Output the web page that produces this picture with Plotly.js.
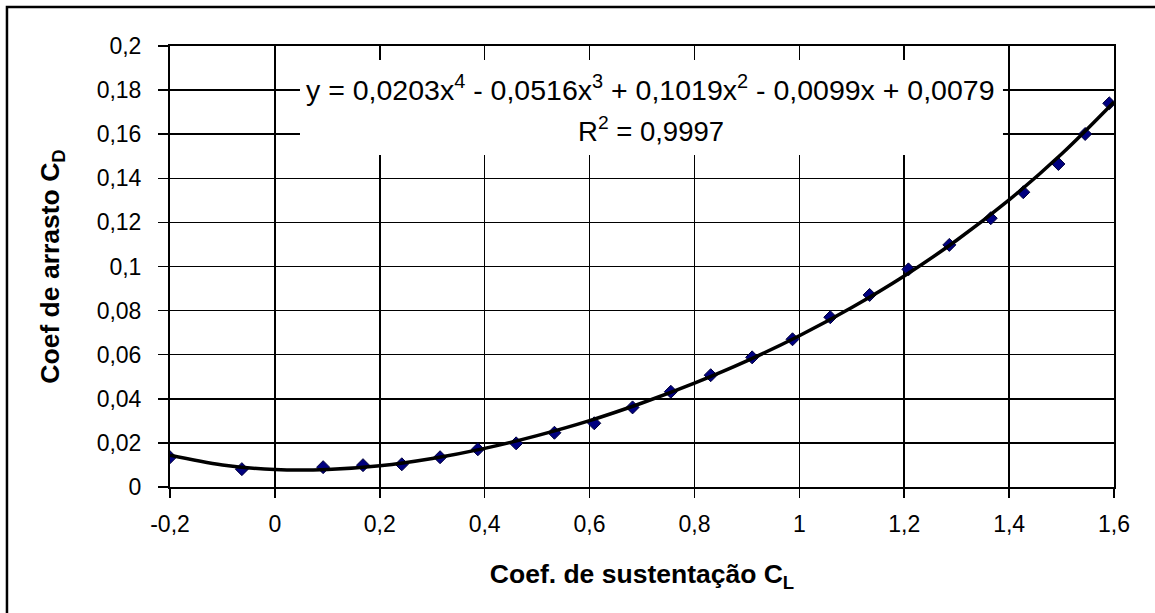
<!DOCTYPE html>
<html>
<head>
<meta charset="utf-8">
<script src="https://cdn.plot.ly/plotly-3.0.1.min.js"></script>
<style>html,body{margin:0;padding:0;background:#fff;}#chart{width:1155px;height:613px;}</style>
</head>
<body>
<div id="chart"></div>
<script>
// Measured data points (C_L, C_D)
const clValues = [-0.2, -0.063, 0.092, 0.168, 0.242, 0.315, 0.387, 0.46, 0.533, 0.609, 0.682, 0.755, 0.831, 0.91, 0.987, 1.059, 1.134, 1.208, 1.286, 1.365, 1.427, 1.494, 1.545, 1.591];
const cdValues = [0.0135, 0.0081, 0.009, 0.0099, 0.0103, 0.0135, 0.0171, 0.0198, 0.0246, 0.0289, 0.0361, 0.0432, 0.0507, 0.0588, 0.067, 0.077, 0.0871, 0.0987, 0.1098, 0.1219, 0.1337, 0.1465, 0.1601, 0.174];

// Trendline
const trendX = [-0.2, -0.1, 0, 0.1, 0.2, 0.3, 0.4, 0.5, 0.6, 0.7, 0.8, 0.9, 1.0, 1.1, 1.2, 1.3, 1.4, 1.5, 1.6];
const trendY = [0.0144, 0.0100, 0.0079, 0.0079, 0.0096, 0.0129, 0.0175, 0.0233, 0.0301, 0.0381, 0.0471, 0.0572, 0.0686, 0.0814, 0.0957, 0.1119, 0.1302, 0.1510, 0.1746];

// Tick labels
const xTickVals = [-0.2, 0, 0.2, 0.4, 0.6, 0.8, 1, 1.2, 1.4, 1.6];
const xTickText = ["-0,2", "0", "0,2", "0,4", "0,6", "0,8", "1", "1,2", "1,4", "1,6"];
const yTickVals = [0, 0.02, 0.04, 0.06, 0.08, 0.1, 0.12, 0.14, 0.16, 0.18, 0.2];
const yTickText = ["0", "0,02", "0,04", "0,06", "0,08", "0,1", "0,12", "0,14", "0,16", "0,18", "0,2"];

const equationText = "y = 0,0203x<sup>4</sup> - 0,0516x<sup>3</sup> + 0,1019x<sup>2</sup> - 0,0099x + 0,0079";
const r2Text = "R<sup>2</sup> = 0,9997";
const xTitle = "<b>Coef. de sustentação C<sub>L</sub></b>";
const yTitle = "<b>Coef de arrasto C<sub>D</sub></b>";

const FONT = "Liberation Sans, Arial, sans-serif";

const traces = [
  {
    x: clValues, y: cdValues, type: "scatter", mode: "markers",
    marker: {symbol: "diamond", size: 10, color: "#000080", line: {color: "#00003a", width: 1}},
    hoverinfo: "x+y", showlegend: false
  },
  {
    x: trendX, y: trendY, type: "scatter", mode: "lines",
    line: {color: "#000000", width: 3.5, shape: "spline"},
    hoverinfo: "skip", showlegend: false
  }
];

const layout = {
  width: 1155, height: 613,
  margin: {l: 170, r: 41, t: 46, b: 126},
  paper_bgcolor: "#ffffff", plot_bgcolor: "#ffffff",
  font: {family: FONT, color: "#000", size: 24},
  showlegend: false,
  xaxis: {
    range: [-0.2, 1.6], tickvals: xTickVals, ticktext: xTickText,
    showgrid: true, gridcolor: "#000", gridwidth: 1.5,
    zeroline: false, showline: true, linecolor: "#000", linewidth: 2, mirror: true,
    ticks: "outside", ticklen: 9, tickwidth: 1.5, tickcolor: "#000",
    tickfont: {family: FONT, size: 23, color: "#000"},
    ticklabelstandoff: 6,
    title: {text: xTitle, font: {family: FONT, size: 26.5, color: "#000"}, standoff: 29}
  },
  yaxis: {
    range: [0, 0.2], tickvals: yTickVals, ticktext: yTickText,
    showgrid: true, gridcolor: "#000", gridwidth: 1.5,
    zeroline: false, showline: true, linecolor: "#000", linewidth: 2, mirror: true,
    ticks: "outside", ticklen: 10, tickwidth: 1.5, tickcolor: "#000",
    tickfont: {family: FONT, size: 23, color: "#000"},
    ticklabelstandoff: 12,
    title: {text: yTitle, font: {family: FONT, size: 26.5, color: "#000"}, standoff: 29}
  },
  shapes: [
    {type: "rect", xref: "paper", yref: "paper", x0: 0.1377, x1: 0.8824, y0: 0.753, y1: 0.968,
     fillcolor: "#ffffff", line: {width: 0}, layer: "above"},
    {type: "rect", xref: "paper", yref: "paper", x0: -0.1727, x1: 1.06, y0: -0.31, y1: 1.0884,
     fillcolor: "rgba(0,0,0,0)", line: {color: "#000", width: 2.5}, layer: "above"}
  ],
  annotations: [
    {xref: "paper", yref: "paper", x: 0.5095, y: 0.905, text: equationText, showarrow: false,
     xanchor: "center", yanchor: "middle", font: {family: FONT, size: 28.5, color: "#000"}},
    {xref: "paper", yref: "paper", x: 0.5095, y: 0.810, text: r2Text, showarrow: false,
     xanchor: "center", yanchor: "middle", font: {family: FONT, size: 27.5, color: "#000"}}
  ]
};

Plotly.newPlot("chart", traces, layout, {displayModeBar: false, staticPlot: true});
</script>
</body>
</html>
